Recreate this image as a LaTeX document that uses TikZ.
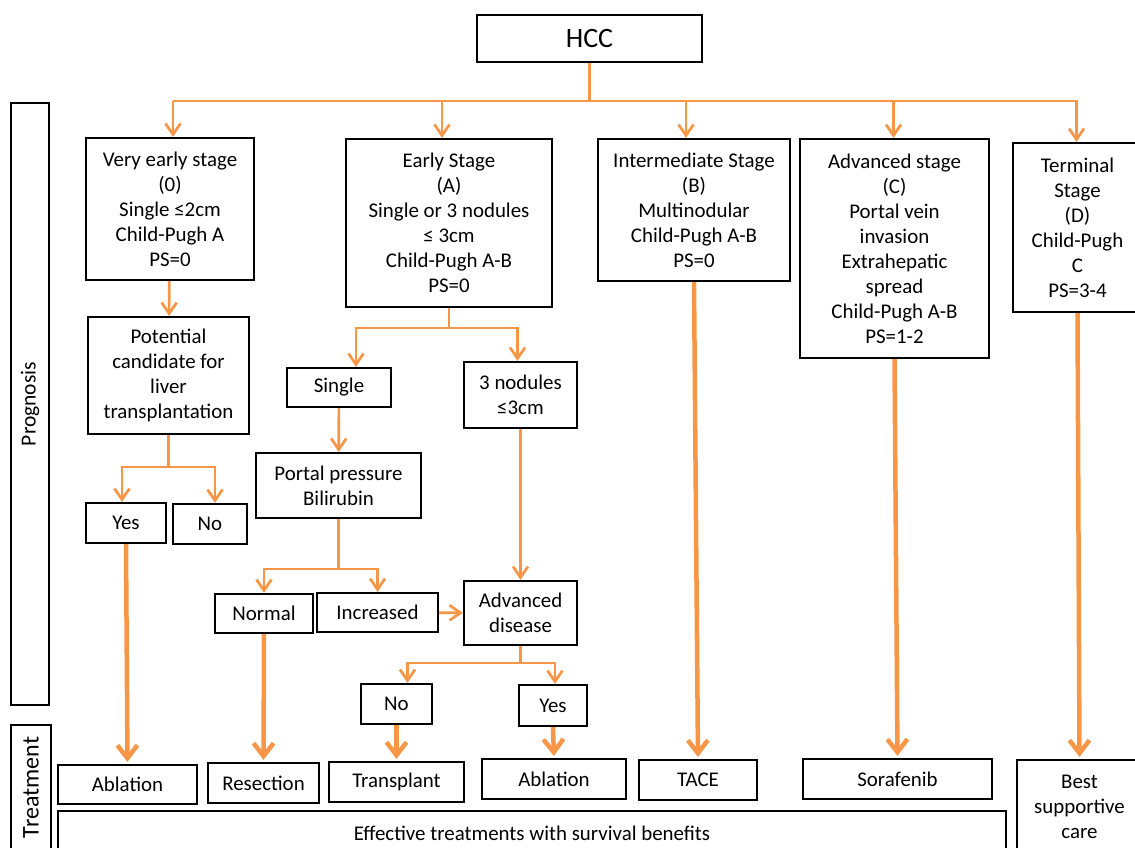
\documentclass[tikz,border=0pt]{standalone}
\usepackage{fontspec}
\setmainfont{Carlito}
\usetikzlibrary{arrows.meta,positioning,calc}
\definecolor{ink}{HTML}{000000}
\definecolor{flow}{HTML}{F79646}

\begin{document}
\begin{tikzpicture}[
  x=1pt,y=-1pt,
  txt/.style={font=\fontsize{20.9}{25}\selectfont},
  box/.style={draw=ink,line width=2.2pt,align=center,inner sep=0pt,txt},
  branch/.style={draw=flow,line width=2.7pt},
  link/.style={branch,-{Straight Barb[length=11pt,width=15pt]}},
  heavy/.style={draw=flow,line width=4.5pt,shorten >=2pt,-{Straight Barb[length=13pt,width=20pt]}},
  sidebar/.style={box,rotate=90}
]
\useasboundingbox (0,0) rectangle (1135,847);
\clip (0,0) rectangle (1135,847);

% side labels
\node[sidebar,minimum width=602pt,minimum height=38pt,font=\fontsize{21.5}{24}\selectfont] (prog) at (30,404) {Prognosis};
\node[sidebar,minimum width=125pt,minimum height=40pt,font=\fontsize{24}{26}\selectfont] (treat) at (31,787.5) {Treatment};

% root
\node[box,minimum width=225pt,minimum height=47pt,font=\fontsize{28}{32}\selectfont] (hcc) at (589.5,38.5) {HCC};

% stages
\node[box,minimum width=168pt,minimum height=142pt] (ve) at (170,209) {Very early stage\\(0)\\Single ≤2cm\\Child-Pugh A\\PS=0};
\node[box,minimum width=206pt,minimum height=168pt] (ea) at (449,223) {Early Stage\\(A)\\Single or 3 nodules\\≤ 3cm\\Child-Pugh A-B\\PS=0};
\node[box,minimum width=192pt,minimum height=142pt] (im) at (694,210) {Intermediate Stage\\(B)\\Multinodular\\Child-Pugh A-B\\PS=0};
\node[box,minimum width=189pt,minimum height=219pt] (ad) at (894.5,248.5) {Advanced stage\\(C)\\Portal vein\\invasion\\Extrahepatic\\spread\\Child-Pugh A-B\\PS=1-2};
\node[box,minimum width=129pt,minimum height=169pt] (te) at (1077.5,227.5) {Terminal\\Stage\\(D)\\Child-Pugh\\C\\PS=3-4};

% very early branch
\node[box,minimum width=161pt,minimum height=117pt] (cand) at (168.5,375.5) {Potential\\candidate for\\liver\\transplantation};
\node[box,minimum width=80pt,minimum height=40pt] (yesA) at (126,523) {Yes};
\node[box,minimum width=74pt,minimum height=40pt] (noA) at (210,524) {No};

% early branch
\node[box,minimum width=104pt,minimum height=39pt] (single) at (339,387.5) {Single};
\node[box,minimum width=113pt,minimum height=66pt] (three) at (520.5,395) {3 nodules\\≤3cm};
\node[box,minimum width=165pt,minimum height=65pt] (portal) at (338.5,485.5) {Portal pressure\\Bilirubin};
\node[box,minimum width=98pt,minimum height=39pt] (normal) at (264,613.5) {Normal};
\node[box,minimum width=121pt,minimum height=39pt] (incr) at (377.5,612.5) {Increased};
\node[box,minimum width=113pt,minimum height=64pt] (disease) at (520.5,613) {Advanced\\disease};
\node[box,minimum width=71pt,minimum height=40pt] (noB) at (396.5,704) {No};
\node[box,minimum width=68pt,minimum height=41pt] (yesB) at (553,705.5) {Yes};

% treatments
\node[box,minimum width=139pt,minimum height=39pt] (ablA) at (127.5,784.5) {Ablation};
\node[box,minimum width=111pt,minimum height=40pt] (resect) at (263.5,783) {Resection};
\node[box,minimum width=135pt,minimum height=40pt] (transp) at (396.5,782) {Transplant};
\node[box,minimum width=144pt,minimum height=40pt] (ablB) at (554,779) {Ablation};
\node[box,minimum width=118pt,minimum height=40pt] (tace) at (698,780) {TACE};
\node[box,minimum width=189pt,minimum height=40pt] (sora) at (897.5,779) {Sorafenib};
\node[box,minimum width=125pt,minimum height=94pt] (care) at (1079.5,807) {Best\\supportive\\care};
\node[box,minimum width=948pt,minimum height=44pt] (effect) at (532,833) {Effective treatments with survival benefits};

% connectors
\draw[branch] (hcc.south) -- ++(0,38) coordinate (bus);
\draw[branch] ([xshift=3pt]ve.north |- bus) -- (te.north |- bus);
\foreach \s/\dx in {ve/3,ea/-7,im/-8,ad/-1,te/-1}
  \draw[link] ([xshift=\dx pt]\s.north |- bus) -- ([xshift=\dx pt]\s.north);
\draw[link] (ve) -- (cand);
\draw[branch] (cand.south) -- ++(0,32) coordinate (candbus);
\draw[link] (candbus) -| ([xshift=-4pt]yesA.north);
\draw[link] (candbus) -| ([xshift=5pt]noA.north);
\draw[branch] (ea.south) -- ++(0,20) coordinate (eabus);
\draw[link] (eabus) -| ([xshift=17pt]single.north);
\draw[link] (eabus) -| ([xshift=-3pt]three.north);
\draw[link] (single) -- (portal);
\draw[link] (three) -- (disease);
\draw[branch] (portal.south) -- ++(0,50) coordinate (portbus);
\draw[link] (portbus) -| (normal.north);
\draw[link] (portbus) -| (incr.north);
\draw[link] (incr) -- (disease);
\draw[branch] (disease.south) -- ++(0,17) coordinate (disbus);
\draw[link] (disbus) -| ([xshift=11pt]noB.north);
\draw[link] (disbus) -| ([xshift=2pt]yesB.north);
\foreach \a/\b in {yesA/ablA,normal/resect,noB/transp,yesB/ablB,im/tace,ad/sora,te/care}
  \draw[heavy] (\a.south) -- (\b.north);
\end{tikzpicture}
\end{document}
